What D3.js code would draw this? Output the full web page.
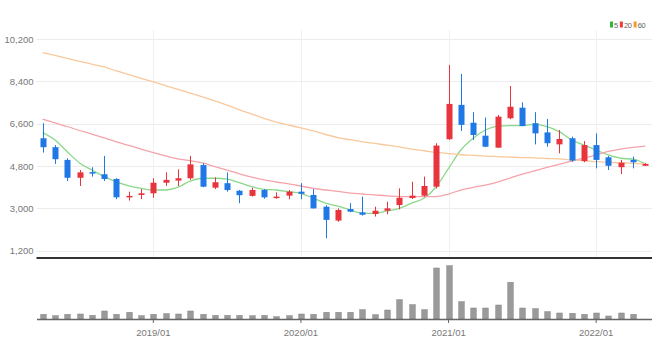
<!DOCTYPE html>
<html>
<head>
<meta charset="utf-8">
<script src="https://cdn.jsdelivr.net/npm/d3@7"></script>
<style>
  body { margin: 0; background: #fff; }
  text { font-family: "Liberation Sans Narrow", "Arial Narrow", "Liberation Sans", sans-serif; }
</style>
</head>
<body>
<div id="chart-area"></div>
<script>
// monthly candles, 2018/04 - 2022/05
let months = ['2018/04','2018/05','2018/06','2018/07','2018/08','2018/09','2018/10','2018/11','2018/12',
  '2019/01','2019/02','2019/03','2019/04','2019/05','2019/06','2019/07','2019/08','2019/09','2019/10','2019/11','2019/12',
  '2020/01','2020/02','2020/03','2020/04','2020/05','2020/06','2020/07','2020/08','2020/09','2020/10','2020/11','2020/12',
  '2021/01','2021/02','2021/03','2021/04','2021/05','2021/06','2021/07','2021/08','2021/09','2021/10','2021/11','2021/12',
  '2022/01','2022/02','2022/03','2022/04','2022/05']

let opens = [5980,5600,5060,4300,4540,4450,4250,3470,3570,3640,4090,4180,4280,4840,3880,4070,3750,3530,3780,3440,
  3540,3710,3570,3070,2480,2970,2830,2760,2900,3140,3440,3540,3920,5940,7400,6640,6090,5580,6830,7280,
  6620,6230,5720,5980,5010,5690,5170,4750,5060,4810]
let highs = [6620,5690,5130,4630,4750,5230,4280,3710,3820,4280,4530,4660,5230,4920,4320,4530,3780,3880,3820,3680,
  3780,4070,3820,3130,3000,3220,3500,3070,3280,3850,4130,4350,5770,9100,8710,7090,6860,6970,8200,7510,
  7090,6800,6330,6050,5860,6190,5230,5060,5200,4920]
let lows = [5370,4890,4160,3950,4350,4160,3390,3330,3390,3450,3950,3950,4210,3900,3820,3710,3220,3500,3410,3410,
  3390,3390,2990,1730,2430,2840,2690,2650,2750,2960,3400,3500,3850,5910,6290,5910,5600,5580,6790,6500,
  5720,5620,5340,4980,4960,4700,4630,4460,4700,4800]
let closes = [5600,5090,4300,4530,4490,4250,3470,3530,3640,4090,4210,4280,4870,3920,4110,3780,3560,3780,3470,3500,
  3710,3620,3000,2510,2930,2860,2730,2900,3000,3450,3540,3950,5670,7440,6550,6120,5620,6900,7320,6500,
  6190,5770,5950,5030,5690,5060,4810,4940,4960,4890]

// moving averages
let ma5 = [6220,5910,5410,4930,4630,4350,4130,3960,3850,3780,3780,3900,4160,4280,4280,4240,4090,3920,3810,3780,
  3710,3640,3430,3220,3100,2930,2790,2790,2890,3000,3220,3430,3920,4700,5480,5980,6330,6500,6520,6520,
  6570,6470,6260,5910,5690,5480,5270,5130,5090,4890]
let ma20 = [6790,6630,6480,6310,6160,6000,5830,5680,5520,5370,5230,5100,5030,4930,4770,4630,4470,4330,4210,4120,
  4040,3950,3850,3780,3720,3650,3610,3570,3530,3500,3500,3500,3500,3610,3780,3890,3990,4120,4290,4460,
  4590,4740,4870,5010,5140,5270,5420,5520,5590,5650]
let ma60 = [9620,9500,9380,9250,9130,9010,8840,8690,8530,8380,8220,8060,7900,7740,7570,7390,7190,7010,6830,6670,
  6540,6420,6290,6140,6010,5920,5830,5760,5690,5610,5520,5450,5380,5330,5280,5250,5220,5200,5180,5160,
  5150,5120,5100,5060,5020,4990,4960,4940,4910,4880]

let volumes = [470,330,470,500,370,800,470,670,330,470,530,500,800,470,370,370,370,330,370,230,
  330,500,470,670,670,670,930,430,900,1930,1430,930,5100,5330,1730,1100,1100,1400,3670,1100,
  1030,730,600,570,470,600,300,600,470,0]

let yTicks = [1200, 3000, 4800, 6600, 8400, 10200]
let xTicks = ['2019/01', '2020/01', '2021/01', '2022/01']
let maNames = ['5', '20', '60']

let upColor = '#e8343c'
let downColor = '#1f78e6'
let maColors = ['#8ad88a', '#f5a3ab', '#f9c89c']
let legendColors = ['#2db83d', '#ee3b3b', '#f59a2e']

let width = 666, height = 358
let left = 36.5, right = 651.5

let svg = d3.select('#chart-area').append('svg')
  .attr('width', width)
  .attr('height', height)

// Scales
let x = d3.scaleBand().domain(months).range([left, right]).paddingInner(0.55).paddingOuter(0.275)
let cx = (m) => x(m) + x.bandwidth() / 2
let y = d3.scaleLinear().domain([1200, 10200]).range([250.7, 39])
let yVol = d3.scaleLinear().domain([0, 5700]).range([319, 262])

// grid
let grid = svg.append('g')
grid.selectAll('.hgrid').data(yTicks).enter().append('line')
  .attr('x1', left).attr('x2', right + 0.5)
  .attr('y1', (d) => Math.round(y(d)) + 0.5).attr('y2', (d) => Math.round(y(d)) + 0.5)
  .attr('stroke', '#ececec')
grid.selectAll('.vgrid').data(xTicks).enter().append('line')
  .attr('x1', (d) => Math.round(cx(d)) + 0.5).attr('x2', (d) => Math.round(cx(d)) + 0.5)
  .attr('y1', 30).attr('y2', 257)
  .attr('stroke', '#f0f0f0')

// y axis labels
let yAxis = svg.append('g')
  .attr('transform', 'translate(' + left + ',0)')
  .call(d3.axisLeft(y).tickValues(yTicks).tickSize(0).tickPadding(3).tickFormat(d3.format(',')))
yAxis.select('.domain').remove()
yAxis.selectAll('text').attr('fill', '#777').style('font-size', '9.5px')

// moving average lines
let maData = [ma5, ma20, ma60]
maData.forEach((series, k) => {
  let line = d3.line()
    .x((d, i) => cx(months[i]))
    .y((d) => y(d))
    .curve(d3.curveMonotoneX)
  svg.append('path')
    .attr('fill', 'none')
    .attr('stroke', maColors[k])
    .attr('stroke-width', 1.3)
    .attr('d', line(series))
})

// candles
let candles = svg.append('g').selectAll('g').data(months).enter().append('g')
candles.append('line')
  .attr('x1', (d) => Math.round(cx(d)) + 0.5).attr('x2', (d) => Math.round(cx(d)) + 0.5)
  .attr('y1', (d, i) => y(highs[i])).attr('y2', (d, i) => y(lows[i]))
  .attr('stroke', (d, i) => closes[i] >= opens[i] ? upColor : downColor)
  .attr('stroke-width', 1)
candles.append('rect')
  .attr('x', (d) => Math.round(cx(d)) + 0.5 - 3)
  .attr('width', 6)
  .attr('y', (d, i) => y(Math.max(opens[i], closes[i])))
  .attr('height', (d, i) => Math.max(1.5, Math.abs(y(opens[i]) - y(closes[i]))))
  .attr('fill', (d, i) => closes[i] >= opens[i] ? upColor : downColor)

// separator line under price panel
svg.append('line')
  .attr('x1', left).attr('x2', right + 0.5)
  .attr('y1', 258).attr('y2', 258)
  .attr('stroke', '#333').attr('stroke-width', 2)

// volume bars
svg.append('g').selectAll('rect').data(volumes).enter().append('rect')
  .attr('x', (d, i) => Math.round(cx(months[i])) + 0.5 - 2.75)
  .attr('width', 5.5)
  .attr('y', (d) => yVol(d))
  .attr('height', (d) => yVol(0) - yVol(d))
  .attr('fill', '#9a9a9a')
  .attr('stroke', '#808080')
  .attr('stroke-width', 0.5)

// x axis under volume
let xAxis = svg.append('g')
  .attr('transform', 'translate(0,319)')
  .call(d3.axisBottom(x).tickValues(xTicks).tickSize(4).tickPadding(6).tickSizeOuter(0))
xAxis.select('.domain').attr('stroke', '#666').attr('stroke-width', 1.5)
xAxis.selectAll('.tick line').attr('stroke', '#666')
xAxis.selectAll('text').attr('fill', '#777').style('font-size', '9.5px')

// legend
let legend = svg.append('g').attr('transform', 'translate(610, 21)')
let lx = 0
maNames.forEach((name, k) => {
  legend.append('rect').attr('x', lx).attr('y', 0.5).attr('width', 3).attr('height', 6).attr('fill', legendColors[k])
  let t = legend.append('text').attr('x', lx + 4).attr('y', 6.5)
    .attr('fill', '#666').style('font-size', '7.5px').style('letter-spacing', '-0.3px').text(name)
  lx += 6 + t.node().getComputedTextLength()
})
</script>
</body>
</html>
